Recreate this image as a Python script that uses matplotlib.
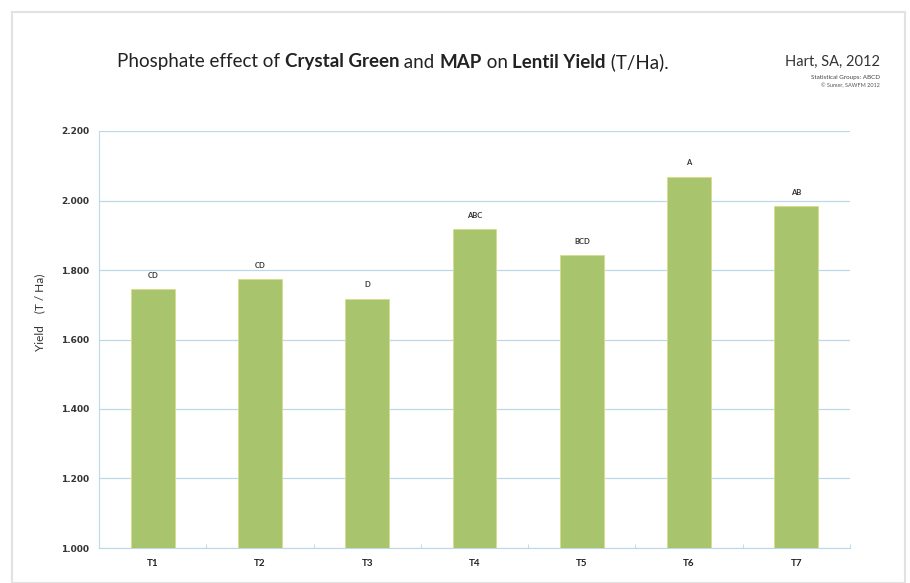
import matplotlib
matplotlib.use("Agg")
import matplotlib.pyplot as plt
from matplotlib.patches import Rectangle
import numpy as np

categories = ["T1", "T2", "T3", "T4", "T5", "T6", "T7"]
yields = [1.745, 1.774, 1.717, 1.918, 1.843, 2.068, 1.984]
groups = ["CD", "CD", "D", "ABC", "BCD", "A", "AB"]
yticks = [1.0, 1.2, 1.4, 1.6, 1.8, 2.0, 2.2]
ytick_labels = ["1.000", "1.200", "1.400", "1.600", "1.800", "2.000", "2.200"]

plt.rcParams['font.family'] = ['Lato', 'DejaVu Sans']

fig = plt.figure(figsize=(9.10, 5.83), dpi=100)
fig.patch.set_facecolor('white')
fig.patches.append(Rectangle((12/910, 0), 893/910, 571/583, transform=fig.transFigure,
                             fill=False, edgecolor='#e2e2e2', linewidth=1.5))

ax = fig.add_axes([99/910, 1 - 548/583, (850-99)/910, (548-131)/583])
x = np.arange(len(categories))
ax.bar(x, yields, width=0.41, color='#a8c46c', edgecolor='#d9dc8a', linewidth=0.6,
       zorder=3)
ax.set_ylim(1.0, 2.2)
ax.set_xlim(-0.5, 6.5)
ax.set_yticks(yticks)
ax.set_yticklabels(ytick_labels, fontsize=6.5, fontweight='bold', color='#333333',
                   family='DejaVu Sans')
ax.set_xticks(x)
ax.set_xticklabels(categories, fontsize=7, fontweight='bold', color='#222222')
ax.set_xticks(np.arange(-0.5, 7, 1), minor=True)
ax.tick_params(axis='x', which='major', length=0, pad=8)
ax.tick_params(axis='x', which='minor', length=3, color='#b9d6e8', direction='in')
ax.tick_params(axis='y', length=0, pad=7)
ax.grid(axis='y', color='#bcd9ea', linewidth=0.9, zorder=0)
for s in ['top', 'right']:
    ax.spines[s].set_visible(False)
ax.spines['left'].set_color('#bcd9ea')
ax.spines['bottom'].set_color('#bcd9ea')

for xi, yi, g in zip(x, yields, groups):
    ax.text(xi, yi + 0.03, g, ha='center', va='bottom', fontsize=5.5,
            fontweight='bold', color='#333333')

ax.set_ylabel("Yield    (T / Ha)", fontsize=8.5, color='#333333')
ax.yaxis.set_label_coords(-0.072, 0.564)

fig.canvas.draw()
renderer = fig.canvas.get_renderer()
pieces = [("Phosphate effect of ", 'normal'), ("Crystal Green", 'bold'), (" and ", 'normal'),
          ("MAP", 'bold'), (" on ", 'normal'), ("Lentil Yield", 'bold'), (" (T/Ha).", 'normal')]
xpos = 117
for txt, w in pieces:
    tt = fig.text(xpos/910, 1 - 62/583, txt, fontsize=13.5, fontweight=w, va='center',
                  color='#222222')
    bb = tt.get_window_extent(renderer=renderer)
    xpos += bb.width

fig.text(880/910, 1 - 62/583, "Hart, SA, 2012", fontsize=10.5, ha='right', va='center', color='#333333')
fig.text(880/910, 1 - 77/583, "Statistical Groups: ABCD", fontsize=4.5, ha='right', va='center', color='#444444')
fig.text(880/910, 1 - 86/583, "© Sumer, SAWFM 2012", fontsize=4, ha='right', va='center', color='#555555')

fig.savefig("out.png", dpi=100, facecolor='white')
